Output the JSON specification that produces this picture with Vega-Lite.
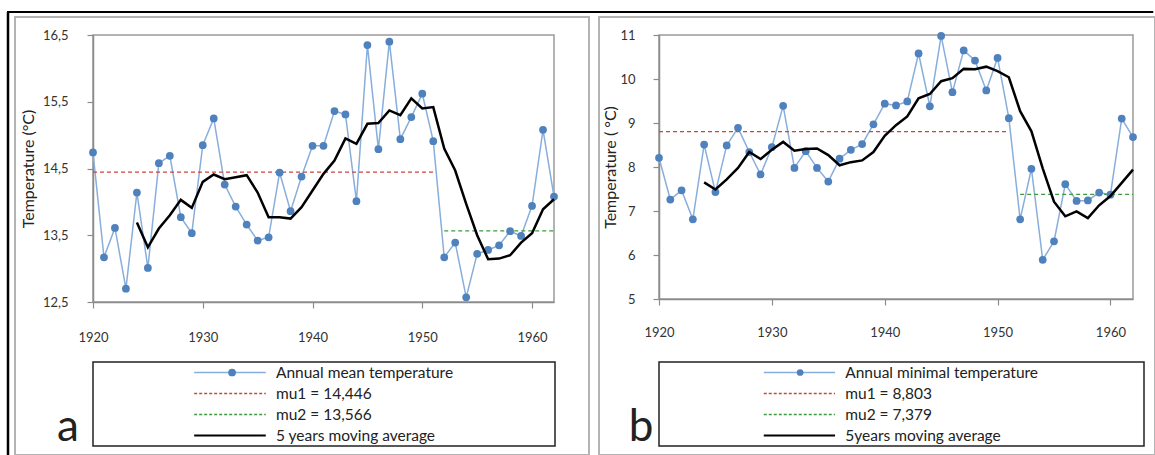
{
  "$schema": "https://vega.github.io/schema/vega-lite/v6.json",
  "background": "white",
  "padding": {"left": 5, "top": 9, "right": 0, "bottom": 0},
  "autosize": {"type": "pad"},
  "config": {
    "font": "Lato",
    "view": {"stroke": null},
    "axis": {"grid": false, "domainColor": "#8c8c8c", "tickColor": "#8c8c8c", "domainWidth": 1.5, "tickWidth": 1.2, "labelColor": "#333333", "labelFontSize": 13, "titleColor": "#222222", "titleFontSize": 16, "titleFontWeight": "normal", "labelFlush": false}
  },
  "datasets": {
    "annualA": [
      {"year":1920,"t":14.74},{"year":1921,"t":13.17},{"year":1922,"t":13.61},{"year":1923,"t":12.70},{"year":1924,"t":14.14},
      {"year":1925,"t":13.01},{"year":1926,"t":14.58},{"year":1927,"t":14.69},{"year":1928,"t":13.77},{"year":1929,"t":13.53},
      {"year":1930,"t":14.85},{"year":1931,"t":15.25},{"year":1932,"t":14.26},{"year":1933,"t":13.93},{"year":1934,"t":13.66},
      {"year":1935,"t":13.42},{"year":1936,"t":13.47},{"year":1937,"t":14.44},{"year":1938,"t":13.86},{"year":1939,"t":14.38},
      {"year":1940,"t":14.84},{"year":1941,"t":14.84},{"year":1942,"t":15.36},{"year":1943,"t":15.31},{"year":1944,"t":14.01},
      {"year":1945,"t":16.35},{"year":1946,"t":14.79},{"year":1947,"t":16.40},{"year":1948,"t":14.94},{"year":1949,"t":15.27},
      {"year":1950,"t":15.62},{"year":1951,"t":14.91},{"year":1952,"t":13.17},{"year":1953,"t":13.39},{"year":1954,"t":12.57},
      {"year":1955,"t":13.22},{"year":1956,"t":13.28},{"year":1957,"t":13.35},{"year":1958,"t":13.56},{"year":1959,"t":13.49},
      {"year":1960,"t":13.94},{"year":1961,"t":15.08},{"year":1962,"t":14.08}
    ],
    "maA": [
      {"year":1924,"t":13.69},{"year":1925,"t":13.32},{"year":1926,"t":13.60},{"year":1927,"t":13.80},{"year":1928,"t":14.03},
      {"year":1929,"t":13.91},{"year":1930,"t":14.30},{"year":1931,"t":14.41},{"year":1932,"t":14.34},{"year":1933,"t":14.37},
      {"year":1934,"t":14.40},{"year":1935,"t":14.14},{"year":1936,"t":13.77},{"year":1937,"t":13.77},{"year":1938,"t":13.75},
      {"year":1939,"t":13.92},{"year":1940,"t":14.17},{"year":1941,"t":14.42},{"year":1942,"t":14.62},{"year":1943,"t":14.95},
      {"year":1944,"t":14.87},{"year":1945,"t":15.17},{"year":1946,"t":15.18},{"year":1947,"t":15.37},{"year":1948,"t":15.30},
      {"year":1949,"t":15.55},{"year":1950,"t":15.40},{"year":1951,"t":15.42},{"year":1952,"t":14.80},{"year":1953,"t":14.47},
      {"year":1954,"t":13.97},{"year":1955,"t":13.50},{"year":1956,"t":13.14},{"year":1957,"t":13.15},{"year":1958,"t":13.20},
      {"year":1959,"t":13.39},{"year":1960,"t":13.53},{"year":1961,"t":13.89},{"year":1962,"t":14.04}
    ],
    "muA": [
      {"series":"mu1","year":1920,"year2":1951,"t":14.446},
      {"series":"mu2","year":1952,"year2":1962,"t":13.566}
    ],
    "annualB": [
      {"year":1920,"t":8.21},{"year":1921,"t":7.26},{"year":1922,"t":7.47},{"year":1923,"t":6.81},{"year":1924,"t":8.51},
      {"year":1925,"t":7.43},{"year":1926,"t":8.49},{"year":1927,"t":8.89},{"year":1928,"t":8.34},{"year":1929,"t":7.83},
      {"year":1930,"t":8.45},{"year":1931,"t":9.39},{"year":1932,"t":7.98},{"year":1933,"t":8.36},{"year":1934,"t":7.98},
      {"year":1935,"t":7.67},{"year":1936,"t":8.19},{"year":1937,"t":8.39},{"year":1938,"t":8.52},{"year":1939,"t":8.97},
      {"year":1940,"t":9.44},{"year":1941,"t":9.40},{"year":1942,"t":9.49},{"year":1943,"t":10.58},{"year":1944,"t":9.38},
      {"year":1945,"t":10.98},{"year":1946,"t":9.70},{"year":1947,"t":10.65},{"year":1948,"t":10.42},{"year":1949,"t":9.74},
      {"year":1950,"t":10.48},{"year":1951,"t":9.11},{"year":1952,"t":6.81},{"year":1953,"t":7.96},{"year":1954,"t":5.89},
      {"year":1955,"t":6.31},{"year":1956,"t":7.61},{"year":1957,"t":7.23},{"year":1958,"t":7.24},{"year":1959,"t":7.42},
      {"year":1960,"t":7.37},{"year":1961,"t":9.10},{"year":1962,"t":8.68}
    ],
    "maB": [
      {"year":1924,"t":7.65},{"year":1925,"t":7.49},{"year":1926,"t":7.72},{"year":1927,"t":7.98},{"year":1928,"t":8.34},
      {"year":1929,"t":8.18},{"year":1930,"t":8.39},{"year":1931,"t":8.57},{"year":1932,"t":8.37},{"year":1933,"t":8.41},
      {"year":1934,"t":8.42},{"year":1935,"t":8.27},{"year":1936,"t":8.04},{"year":1937,"t":8.11},{"year":1938,"t":8.15},
      {"year":1939,"t":8.34},{"year":1940,"t":8.71},{"year":1941,"t":8.95},{"year":1942,"t":9.15},{"year":1943,"t":9.56},
      {"year":1944,"t":9.66},{"year":1945,"t":9.95},{"year":1946,"t":10.02},{"year":1947,"t":10.23},{"year":1948,"t":10.22},
      {"year":1949,"t":10.28},{"year":1950,"t":10.18},{"year":1951,"t":10.04},{"year":1952,"t":9.27},{"year":1953,"t":8.81},
      {"year":1954,"t":7.97},{"year":1955,"t":7.21},{"year":1956,"t":6.88},{"year":1957,"t":6.99},{"year":1958,"t":6.84},
      {"year":1959,"t":7.13},{"year":1960,"t":7.34},{"year":1961,"t":7.64},{"year":1962,"t":7.94}
    ],
    "muB": [
      {"series":"mu1","year":1920,"year2":1951,"t":8.803},
      {"series":"mu2","year":1952,"year2":1962,"t":7.379}
    ],
    "legA": [
      {"row":1,"series":"annual","label":"Annual mean temperature"},
      {"row":2,"series":"mu1","label":"mu1 = 14,446"},
      {"row":3,"series":"mu2","label":"mu2 = 13,566"},
      {"row":4,"series":"ma","label":"5 years moving average"}
    ],
    "legB": [
      {"row":1,"series":"annual","label":"Annual minimal  temperature"},
      {"row":2,"series":"mu1","label":"mu1 = 8,803"},
      {"row":3,"series":"mu2","label":"mu2 = 7,379"},
      {"row":4,"series":"ma","label":"5years moving average"}
    ]
  },
  "bounds": "flush",
  "columns": 2,
  "spacing": {"row": 60, "column": 104},
  "concat": [
    {
      "width": 461,
      "height": 267,
      "view": {"stroke": "#9a9a9a", "strokeWidth": 1.5},
      "layer": [
        {
          "data": {"name": "annualA"},
          "mark": {"type": "line", "color": "#88aedb", "strokeWidth": 1.5},
          "encoding": {
            "x": {"field": "year", "type": "quantitative", "title": null, "scale": {"domain": [1920, 1962], "nice": false, "zero": false}, "axis": {"values": [1920, 1930, 1940, 1950, 1960], "format": "d", "tickSize": 6, "labelPadding": 23}},
            "y": {"field": "t", "type": "quantitative", "title": "Temperature (°C)", "scale": {"domain": [12.5, 16.5], "nice": false, "zero": false}, "axis": {"values": [12.5, 13.5, 14.5, 15.5, 16.5], "labelExpr": "replace(format(datum.value, '.1f'), '.', ',')", "tickSize": 6, "labelPadding": 19, "titlePadding": 6}}
          }
        },
        {
          "data": {"name": "muA"},
          "mark": {"type": "rule", "strokeDash": [4, 3], "strokeWidth": 1.3},
          "encoding": {
            "x": {"field": "year", "type": "quantitative"},
            "x2": {"field": "year2"},
            "y": {"field": "t", "type": "quantitative"},
            "color": {"condition": {"test": "datum.series === 'mu1'", "value": "#c8463f"}, "value": "#3f9a3f"}
          }
        },
        {
          "data": {"name": "annualA"},
          "mark": {"type": "point", "filled": true, "size": 60, "color": "#4f81bd", "opacity": 1},
          "encoding": {"x": {"field": "year", "type": "quantitative"}, "y": {"field": "t", "type": "quantitative"}}
        },
        {
          "data": {"name": "maA"},
          "mark": {"type": "line", "color": "black", "strokeWidth": 2.5},
          "encoding": {"x": {"field": "year", "type": "quantitative"}, "y": {"field": "t", "type": "quantitative"}}
        },
        {
          "data": {"values": [{}]},
          "mark": {"type": "rect", "fillOpacity": 0, "stroke": "#b4b4b4", "strokeWidth": 2},
          "encoding": {"x": {"datum": 1912.893, "type": "quantitative"}, "x2": {"datum": 1965.19}, "y": {"datum": 16.7697, "type": "quantitative"}, "y2": {"datum": 10.208}}
        },
        {
          "data": {"values": [{}]},
          "mark": {"type": "rule", "color": "black", "strokeWidth": 2},
          "encoding": {"x": {"datum": 1912.165, "type": "quantitative"}, "x2": {"datum": 2016.6}, "y": {"datum": 16.8446, "type": "quantitative"}}
        },
        {
          "data": {"values": [{}]},
          "mark": {"type": "rule", "color": "black", "strokeWidth": 2.5},
          "encoding": {"x": {"datum": 1912.256, "type": "quantitative"}, "y": {"datum": 16.8446, "type": "quantitative"}, "y2": {"datum": 10.193}}
        }
      ]
    },
    {
      "width": 474,
      "height": 264,
      "view": {"stroke": "#9a9a9a", "strokeWidth": 1.5},
      "layer": [
        {
          "data": {"name": "annualB"},
          "mark": {"type": "line", "color": "#88aedb", "strokeWidth": 1.5},
          "encoding": {
            "x": {"field": "year", "type": "quantitative", "title": null, "scale": {"domain": [1920, 1962], "nice": false, "zero": false}, "axis": {"values": [1920, 1930, 1940, 1950, 1960], "format": "d", "tickSize": 6, "labelPadding": 21}},
            "y": {"field": "t", "type": "quantitative", "title": "Temperature ( °C)", "scale": {"domain": [5, 11], "nice": false, "zero": false}, "axis": {"values": [5, 6, 7, 8, 9, 10, 11], "format": "d", "tickSize": 6, "labelPadding": 18, "titlePadding": 1}}
          }
        },
        {
          "data": {"name": "muB"},
          "mark": {"type": "rule", "strokeDash": [4, 3], "strokeWidth": 1.3},
          "encoding": {
            "x": {"field": "year", "type": "quantitative"},
            "x2": {"field": "year2"},
            "y": {"field": "t", "type": "quantitative"},
            "color": {"condition": {"test": "datum.series === 'mu1'", "value": "#c8463f"}, "value": "#3f9a3f"}
          }
        },
        {
          "data": {"name": "annualB"},
          "mark": {"type": "point", "filled": true, "size": 60, "color": "#4f81bd", "opacity": 1},
          "encoding": {"x": {"field": "year", "type": "quantitative"}, "y": {"field": "t", "type": "quantitative"}}
        },
        {
          "data": {"name": "maB"},
          "mark": {"type": "line", "color": "black", "strokeWidth": 2.5},
          "encoding": {"x": {"field": "year", "type": "quantitative"}, "y": {"field": "t", "type": "quantitative"}}
        },
        {
          "data": {"values": [{}]},
          "mark": {"type": "rect", "fillOpacity": 0, "stroke": "#b4b4b4", "strokeWidth": 2},
          "encoding": {"x": {"datum": 1914.683, "type": "quantitative"}, "x2": {"datum": 1963.95}, "y": {"datum": 11.409, "type": "quantitative"}, "y2": {"datum": 1.4545}}
        }
      ]
    },
    {
      "width": 462,
      "height": 84,
      "view": {"stroke": "#222222", "strokeWidth": 1.5},
      "data": {"name": "legA"},
      "layer": [
        {
          "mark": {"type": "rule"},
          "encoding": {
            "x": {"datum": 21.9, "type": "quantitative", "scale": {"domain": [0, 100]}, "axis": null},
            "x2": {"datum": 37.4},
            "y": {"field": "row", "type": "ordinal", "axis": null, "scale": {"paddingInner": 0, "paddingOuter": 0}},
            "color": {"condition": [{"test": "datum.series === 'annual'", "value": "#88aedb"}, {"test": "datum.series === 'mu1'", "value": "#c8463f"}, {"test": "datum.series === 'mu2'", "value": "#3f9a3f"}], "value": "black"},
            "strokeDash": {"condition": {"test": "datum.series === 'mu1' || datum.series === 'mu2'", "value": [3, 2]}, "value": [1, 0]},
            "strokeWidth": {"condition": {"test": "datum.series === 'ma'", "value": 2}, "value": 1.3}
          }
        },
        {
          "transform": [{"filter": "datum.series === 'annual'"}],
          "mark": {"type": "point", "filled": true, "size": 60, "color": "#4f81bd", "opacity": 1},
          "encoding": {"x": {"datum": 30.1, "type": "quantitative"}, "y": {"field": "row", "type": "ordinal"}}
        },
        {
          "mark": {"type": "text", "align": "left", "baseline": "middle", "fontSize": 15.5, "color": "#222222"},
          "encoding": {"x": {"datum": 39.6, "type": "quantitative"}, "y": {"field": "row", "type": "ordinal"}, "text": {"field": "label"}}
        },
        {
          "data": {"values": [{}]},
          "mark": {"type": "text", "text": "a", "align": "center", "baseline": "alphabetic", "fontSize": 44, "dy": 5, "color": "#222222"},
          "encoding": {"x": {"datum": -5.4, "type": "quantitative"}, "y": {"datum": 4, "type": "ordinal"}}
        }
      ]
    },
    {
      "width": 485,
      "height": 84,
      "view": {"stroke": "#222222", "strokeWidth": 1.5},
      "data": {"name": "legB"},
      "layer": [
        {
          "mark": {"type": "rule"},
          "encoding": {
            "x": {"datum": 21.6, "type": "quantitative", "scale": {"domain": [0, 100]}, "axis": null},
            "x2": {"datum": 36.3},
            "y": {"field": "row", "type": "ordinal", "axis": null, "scale": {"paddingInner": 0, "paddingOuter": 0}},
            "color": {"condition": [{"test": "datum.series === 'annual'", "value": "#88aedb"}, {"test": "datum.series === 'mu1'", "value": "#c8463f"}, {"test": "datum.series === 'mu2'", "value": "#3f9a3f"}], "value": "black"},
            "strokeDash": {"condition": {"test": "datum.series === 'mu1' || datum.series === 'mu2'", "value": [3, 2]}, "value": [1, 0]},
            "strokeWidth": {"condition": {"test": "datum.series === 'ma'", "value": 2}, "value": 1.3}
          }
        },
        {
          "transform": [{"filter": "datum.series === 'annual'"}],
          "mark": {"type": "point", "filled": true, "size": 45, "color": "#4f81bd", "opacity": 1},
          "encoding": {"x": {"datum": 29.1, "type": "quantitative"}, "y": {"field": "row", "type": "ordinal"}}
        },
        {
          "mark": {"type": "text", "align": "left", "baseline": "middle", "fontSize": 15.5, "color": "#222222"},
          "encoding": {"x": {"datum": 38.4, "type": "quantitative"}, "y": {"field": "row", "type": "ordinal"}, "text": {"field": "label"}}
        },
        {
          "data": {"values": [{}]},
          "mark": {"type": "text", "text": "b", "align": "center", "baseline": "alphabetic", "fontSize": 44, "dy": 5, "color": "#222222"},
          "encoding": {"x": {"datum": -3.7, "type": "quantitative"}, "y": {"datum": 4, "type": "ordinal"}}
        }
      ]
    }
  ]
}
